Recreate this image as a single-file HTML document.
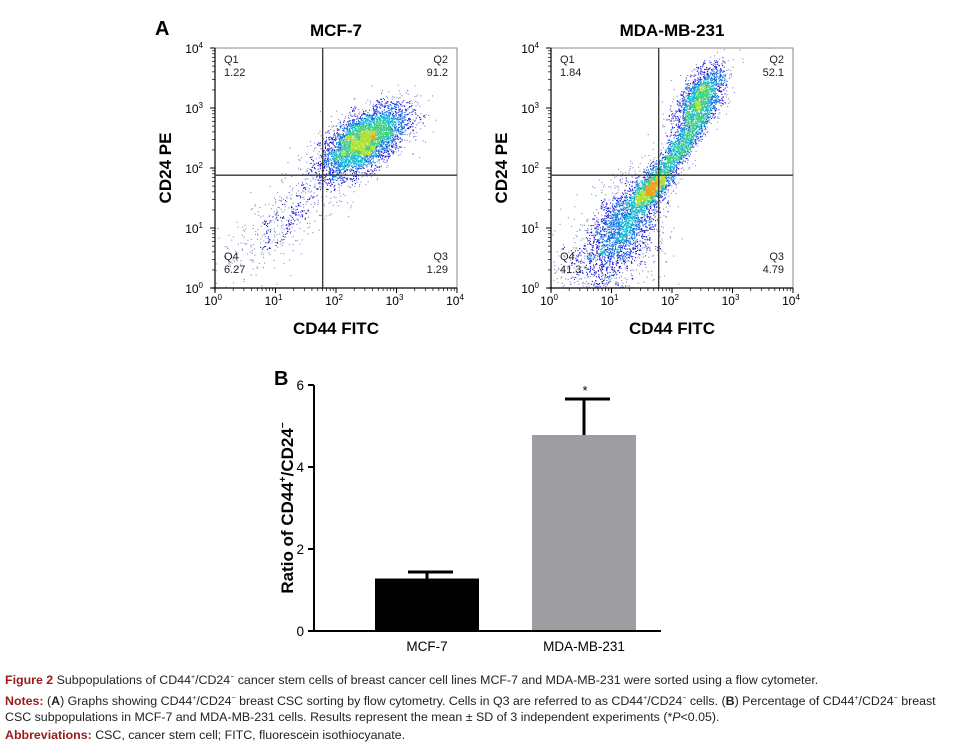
<!DOCTYPE html>
<html><head><meta charset="utf-8"><style>
body{margin:0;background:#fff;width:957px;height:745px;overflow:hidden;font-family:"Liberation Sans",sans-serif}
svg{position:absolute;left:0;top:0}
.cap{position:absolute;left:5px;font-size:12.4px;color:#222;line-height:16px;white-space:nowrap}
</style></head><body>
<svg id="fig" width="957" height="660"></svg>
<div class="cap" style="top:670px"><b style="color:#9a1b1b">Figure 2</b> Subpopulations of CD44<sup style="font-size:7px">+</sup>/CD24<sup style="font-size:7px">−</sup> cancer stem cells of breast cancer cell lines MCF-7 and MDA-MB-231 were sorted using a flow cytometer.</div>
<div class="cap" style="top:691px"><b style="color:#9a1b1b">Notes:</b> (<b>A</b>) Graphs showing CD44<sup style="font-size:7px">+</sup>/CD24<sup style="font-size:7px">−</sup> breast CSC sorting by flow cytometry. Cells in Q3 are referred to as CD44<sup style="font-size:7px">+</sup>/CD24<sup style="font-size:7px">−</sup> cells. (<b>B</b>) Percentage of CD44<sup style="font-size:7px">+</sup>/CD24<sup style="font-size:7px">−</sup> breast<br>CSC subpopulations in MCF-7 and MDA-MB-231 cells. Results represent the mean ± SD of 3 independent experiments (*<i>P</i>&lt;0.05).</div>
<div class="cap" style="top:727px"><b style="color:#9a1b1b">Abbreviations:</b> CSC, cancer stem cell; FITC, fluorescein isothiocyanate.</div>
<script>
const barCategories=["MCF-7","MDA-MB-231"];
const barValues=[1.28,4.78];
const barErrors=[0.16,0.88];
const barYTicks=[0,2,4,6];
const flowTitles=["MCF-7","MDA-MB-231"];
const flowQuadrantsMCF=["1.22","91.2","1.29","6.27"];
const flowQuadrantsMDA=["1.84","52.1","4.79","41.3"];
const flowDecadeTicks=[0,1,2,3,4];
const gateLog=[1.78,1.88];
// clusters: [cx, cy, sx, sy, corr, count] in log10 units
const clustersMCF=[[2.45,2.45,0.36,0.3,0.6,4200],[1.2,1.2,0.55,0.5,0.8,500]];
const clustersMDA=[[2.45,3.15,0.2,0.28,0.6,1800],[2.1,2.3,0.28,0.38,0.9,1500],[1.65,1.65,0.16,0.18,0.7,1100],[1.2,1.05,0.33,0.45,0.6,2200],[0.8,0.5,0.55,0.45,0.3,500]];

const NS="http://www.w3.org/2000/svg";
const svg=document.getElementById('fig');
function mk(tag,attrs,parent,text){const e=document.createElementNS(NS,tag);for(const k in attrs)e.setAttribute(k,attrs[k]);if(text!==undefined)e.textContent=text;(parent||svg).appendChild(e);return e;}
let seed=12345;function rnd(){seed=(seed*1103515245+12345)&0x7fffffff;return seed/0x7fffffff;}
function gauss(){let u=rnd()||1e-6,v=rnd();return Math.sqrt(-2*Math.log(u))*Math.cos(2*Math.PI*v);}

const A=mk('text',{x:155,y:35,'font-size':20,'font-weight':'bold'});
A.textContent='A';

function flow(x0,title,quads,clusters){
  const L=x0,R=x0+242,T=48,B=288;
  const sx=v=>L+v*(R-L)/4, sy=v=>B-v*(B-T)/4;
  const g=mk('g',{});
  
  
  const t=mk('text',{x:(L+R)/2,y:36,'text-anchor':'middle','font-size':17,'font-weight':'bold'},g,title);
  
  const pts=[];
  clusters.forEach(c=>{for(let i=0;i<c[5];i++){const a=gauss(),b=gauss();const x=c[0]+c[2]*a,y=c[1]+c[3]*(c[4]*a+Math.sqrt(1-c[4]*c[4])*b);if(x>0&&x<4&&y>0&&y<4)pts.push([sx(x),sy(y)]);}});
  const grid={};pts.forEach(p=>{const k=Math.floor(p[0]/5)+','+Math.floor(p[1]/5);grid[k]=(grid[k]||0)+1;});
  const cols=['#3a3ab0','#1a1ad8','#1070e0','#10b8d0','#40d080','#b0e030','#f0a020'];
  const pg=mk('g',{},g);
  pts.forEach(p=>{const n=grid[Math.floor(p[0]/5)+','+Math.floor(p[1]/5)];const ci=n<4?0:n<11?1:n<20?2:n<30?3:n<42?4:n<56?5:6;mk('rect',{x:p[0].toFixed(1),y:p[1].toFixed(1),width:1.1,height:1.1,fill:cols[ci],opacity:n<4?0.6:1},pg);});
  mk('rect',{x:L,y:T,width:R-L,height:B-T,fill:'none',stroke:'#888','stroke-width':1},g);
  mk('line',{x1:L,y1:T,x2:L,y2:B+3,stroke:'#000','stroke-width':1.2},g);
  mk('line',{x1:L-3,y1:B,x2:R,y2:B,stroke:'#000','stroke-width':1.2},g);
  const gx=sx(gateLog[0]),gy=sy(gateLog[1]);
  const gv=mk('line',{x1:gx,y1:T,x2:gx,y2:B,stroke:'#333','stroke-width':1.3},g);
  const gh=mk('line',{x1:L,y1:gy,x2:R,y2:gy,stroke:'#333','stroke-width':1.3},g);
  flowDecadeTicks.forEach(d=>{
    mk('line',{x1:sx(d),y1:B,x2:sx(d),y2:B+5,stroke:'#000'},g);
    mk('line',{x1:L,y1:sy(d),x2:L-5,y2:sy(d),stroke:'#000'},g);
    if(d<4)for(let m=2;m<10;m++){const o=Math.log10(m);mk('line',{x1:sx(d+o),y1:B,x2:sx(d+o),y2:B+3,stroke:'#000','stroke-width':0.7},g);mk('line',{x1:L,y1:sy(d+o),x2:L-3,y2:sy(d+o),stroke:'#000','stroke-width':0.7},g);}
    const xt=mk('text',{x:sx(d)-2,y:B+17,'text-anchor':'middle','font-size':12},g);xt.textContent='10';mk('tspan',{dy:-5,'font-size':8},xt,String(d));
    const yt=mk('text',{x:L-12,y:sy(d)+5,'text-anchor':'end','font-size':12},g);yt.textContent='10';mk('tspan',{dy:-5,'font-size':8},yt,String(d));
  });
  const xl=mk('text',{x:(L+R)/2,y:334,'text-anchor':'middle','font-size':17,'font-weight':'bold'},g,'CD44 FITC');
  
  const yl=mk('text',{x:0,y:0,transform:`translate(${L-44},${(T+B)/2}) rotate(-90)`,'text-anchor':'middle','font-size':17,'font-weight':'bold'},g,'CD24 PE');
  
  const qpos=[[L+9,'start',63],[R-9,'end',63],[R-9,'end',260],[L+9,'start',260]];
  ['Q1','Q2','Q3','Q4'].forEach((q,i)=>{
    const tx=mk('text',{x:qpos[i][0],y:qpos[i][2],'text-anchor':qpos[i][1],'font-size':11,fill:'#222'},g);
    
    mk('tspan',{x:qpos[i][0]},tx,q);mk('tspan',{x:qpos[i][0],dy:13},tx,quads[i]);
  });
}
flow(215,flowTitles[0],flowQuadrantsMCF,clustersMCF);
flow(551,flowTitles[1],flowQuadrantsMDA,clustersMDA);

const bx0=314,by0=631,byTop=385,yMax=6;
const yS=v=>by0-v*(by0-byTop)/yMax;
const bg=mk('g',{});
const B=mk('text',{x:274,y:385,'font-size':20,'font-weight':'bold'},bg,'B');
const centers=[427,584],bw=104,fills=['#000','#9d9da2'];
barCategories.forEach((c,i)=>{
  const r=mk('rect',{x:centers[i]-bw/2,y:yS(barValues[i]),width:bw,height:by0-yS(barValues[i]),fill:fills[i]},bg);
  
  const top=yS(barValues[i]+barErrors[i]);
  const e=mk('path',{d:`M${centers[i]},${yS(barValues[i])}V${top}M${centers[i]-19},${top}H${centers[i]+26}`,stroke:'#000','stroke-width':3,fill:'none'},bg);
  
  const l=mk('text',{x:centers[i],y:651,'text-anchor':'middle','font-size':13.5},bg,c);
  
});
const star=mk('text',{x:centers[1]+1,y:yS(barValues[1]+barErrors[1])-4,'text-anchor':'middle','font-size':13},bg,'*');

mk('line',{x1:bx0,y1:byTop,x2:bx0,y2:by0,stroke:'#000','stroke-width':2},bg);
mk('line',{x1:bx0-6,y1:by0,x2:661,y2:by0,stroke:'#000','stroke-width':2},bg);
barYTicks.forEach(v=>{mk('line',{x1:bx0-6,y1:yS(v),x2:bx0,y2:yS(v),stroke:'#000','stroke-width':2},bg);
  const t=mk('text',{x:bx0-10,y:yS(v)+5,'text-anchor':'end','font-size':13.5},bg,String(v));});
const yt=mk('text',{x:0,y:0,transform:`translate(293,${(by0+byTop)/2}) rotate(-90)`,'text-anchor':'middle','font-size':17,'font-weight':'bold'},bg);

yt.textContent='Ratio of CD44';mk('tspan',{dy:-7,'font-size':10},yt,'+');mk('tspan',{dy:7},yt,'/CD24');mk('tspan',{dy:-7,'font-size':10},yt,'−');
</script>
</body></html>
